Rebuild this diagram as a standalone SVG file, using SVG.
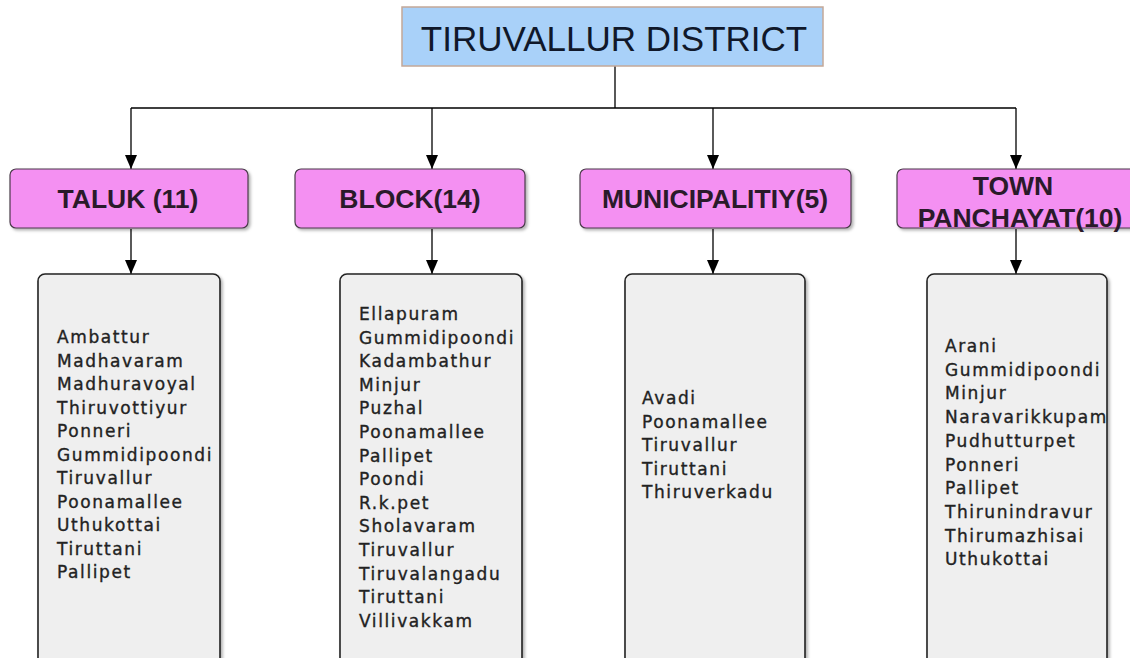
<svg xmlns="http://www.w3.org/2000/svg" width="1130" height="658" viewBox="0 0 1130 658">
<defs>
<style>
.hdr{fill:#f490f2;stroke:#4a3a4a;stroke-width:1.2}
.lst{fill:#efefef;stroke:#222;stroke-width:1.6}
.ht{font-family:"Liberation Sans",Arial,sans-serif;font-weight:bold;font-size:26.5px;fill:#2a1a2a;text-anchor:middle}
.lt{font-family:"DejaVu Sans",Verdana,sans-serif;font-size:17px;fill:#222;stroke:#222;stroke-width:0.35;letter-spacing:1.6px}
.con{stroke:#000;stroke-width:1.3;fill:none}
</style>
<marker id="ah" viewBox="0 0 14 12" refX="14" refY="6" markerWidth="14" markerHeight="12" markerUnits="userSpaceOnUse" orient="auto">
<path d="M0,0 L14,6 L0,12 Z" fill="#000"/>
</marker>
<filter id="sh" x="-10%" y="-10%" width="130%" height="130%">
<feDropShadow dx="2" dy="2" stdDeviation="1.5" flood-color="#000" flood-opacity="0.3"/>
</filter>
</defs>
<rect width="1130" height="658" fill="#fff"/>

<g id="connectors">
<path class="con" d="M615,66 V108 M131,108 H1016"/>
<line class="con" x1="131" y1="108" x2="131" y2="169" marker-end="url(#ah)"/>
<line class="con" x1="432" y1="108" x2="432" y2="169" marker-end="url(#ah)"/>
<line class="con" x1="713" y1="108" x2="713" y2="169" marker-end="url(#ah)"/>
<line class="con" x1="1016" y1="108" x2="1016" y2="169" marker-end="url(#ah)"/>
<line class="con" x1="131" y1="229" x2="131" y2="274" marker-end="url(#ah)"/>
<line class="con" x1="432" y1="229" x2="432" y2="274" marker-end="url(#ah)"/>
<line class="con" x1="713" y1="229" x2="713" y2="274" marker-end="url(#ah)"/>
<line class="con" x1="1016" y1="229" x2="1016" y2="274" marker-end="url(#ah)"/>
</g>

<g id="district">
<rect x="402" y="7" width="421" height="59" fill="#a9d1f9" stroke="#c4a898" stroke-width="1.5"/>
<text x="614" y="51" font-family="Liberation Sans,Arial,sans-serif" font-size="35" fill="#10182a" text-anchor="middle">TIRUVALLUR DISTRICT</text>
</g>

<g id="taluk">
<rect class="hdr" x="10" y="169" width="238" height="59" rx="6" filter="url(#sh)"/>
<text class="ht" x="128" y="208">TALUK (11)</text>
</g>
<g id="block">
<rect class="hdr" x="295" y="169" width="230" height="59" rx="6" filter="url(#sh)"/>
<text class="ht" x="410" y="208">BLOCK(14)</text>
</g>
<g id="municipality">
<rect class="hdr" x="580" y="169" width="271" height="59" rx="6" filter="url(#sh)"/>
<text class="ht" x="715" y="208">MUNICIPALITIY(5)</text>
</g>
<g id="townpanchayat">
<rect class="hdr" x="897" y="169" width="240" height="59" rx="6" filter="url(#sh)"/>
<text class="ht" x="1013" y="195">TOWN</text>
<text class="ht" x="1020" y="227">PANCHAYAT(10)</text>
</g>

<g id="taluk-list">
<rect class="lst" x="38" y="274" width="182" height="400" rx="7" filter="url(#sh)"/>
<text class="lt" x="57" y="343">
<tspan x="57">Ambattur</tspan>
<tspan x="57" dy="23.5">Madhavaram</tspan>
<tspan x="57" dy="23.5">Madhuravoyal</tspan>
<tspan x="57" dy="23.5">Thiruvottiyur</tspan>
<tspan x="57" dy="23.5">Ponneri</tspan>
<tspan x="57" dy="23.5">Gummidipoondi</tspan>
<tspan x="57" dy="23.5">Tiruvallur</tspan>
<tspan x="57" dy="23.5">Poonamallee</tspan>
<tspan x="57" dy="23.5">Uthukottai</tspan>
<tspan x="57" dy="23.5">Tiruttani</tspan>
<tspan x="57" dy="23.5">Pallipet</tspan>
</text>
</g>

<g id="block-list">
<rect class="lst" x="340" y="274" width="182" height="400" rx="7" filter="url(#sh)"/>
<text class="lt" x="359" y="320">
<tspan x="359">Ellapuram</tspan>
<tspan x="359" dy="23.6">Gummidipoondi</tspan>
<tspan x="359" dy="23.6">Kadambathur</tspan>
<tspan x="359" dy="23.6">Minjur</tspan>
<tspan x="359" dy="23.6">Puzhal</tspan>
<tspan x="359" dy="23.6">Poonamallee</tspan>
<tspan x="359" dy="23.6">Pallipet</tspan>
<tspan x="359" dy="23.6">Poondi</tspan>
<tspan x="359" dy="23.6">R.k.pet</tspan>
<tspan x="359" dy="23.6">Sholavaram</tspan>
<tspan x="359" dy="23.6">Tiruvallur</tspan>
<tspan x="359" dy="23.6">Tiruvalangadu</tspan>
<tspan x="359" dy="23.6">Tiruttani</tspan>
<tspan x="359" dy="23.6">Villivakkam</tspan>
</text>
</g>

<g id="municipality-list">
<rect class="lst" x="625" y="274" width="180" height="400" rx="7" filter="url(#sh)"/>
<text class="lt" x="642" y="404">
<tspan x="642">Avadi</tspan>
<tspan x="642" dy="23.5">Poonamallee</tspan>
<tspan x="642" dy="23.5">Tiruvallur</tspan>
<tspan x="642" dy="23.5">Tiruttani</tspan>
<tspan x="642" dy="23.5">Thiruverkadu</tspan>
</text>
</g>

<g id="townpanchayat-list">
<rect class="lst" x="927" y="274" width="180" height="400" rx="7" filter="url(#sh)"/>
<text class="lt" x="945" y="352">
<tspan x="945">Arani</tspan>
<tspan x="945" dy="23.7">Gummidipoondi</tspan>
<tspan x="945" dy="23.7">Minjur</tspan>
<tspan x="945" dy="23.7">Naravarikkupam</tspan>
<tspan x="945" dy="23.7">Pudhutturpet</tspan>
<tspan x="945" dy="23.7">Ponneri</tspan>
<tspan x="945" dy="23.7">Pallipet</tspan>
<tspan x="945" dy="23.7">Thirunindravur</tspan>
<tspan x="945" dy="23.7">Thirumazhisai</tspan>
<tspan x="945" dy="23.7">Uthukottai</tspan>
</text>
</g>
</svg>
